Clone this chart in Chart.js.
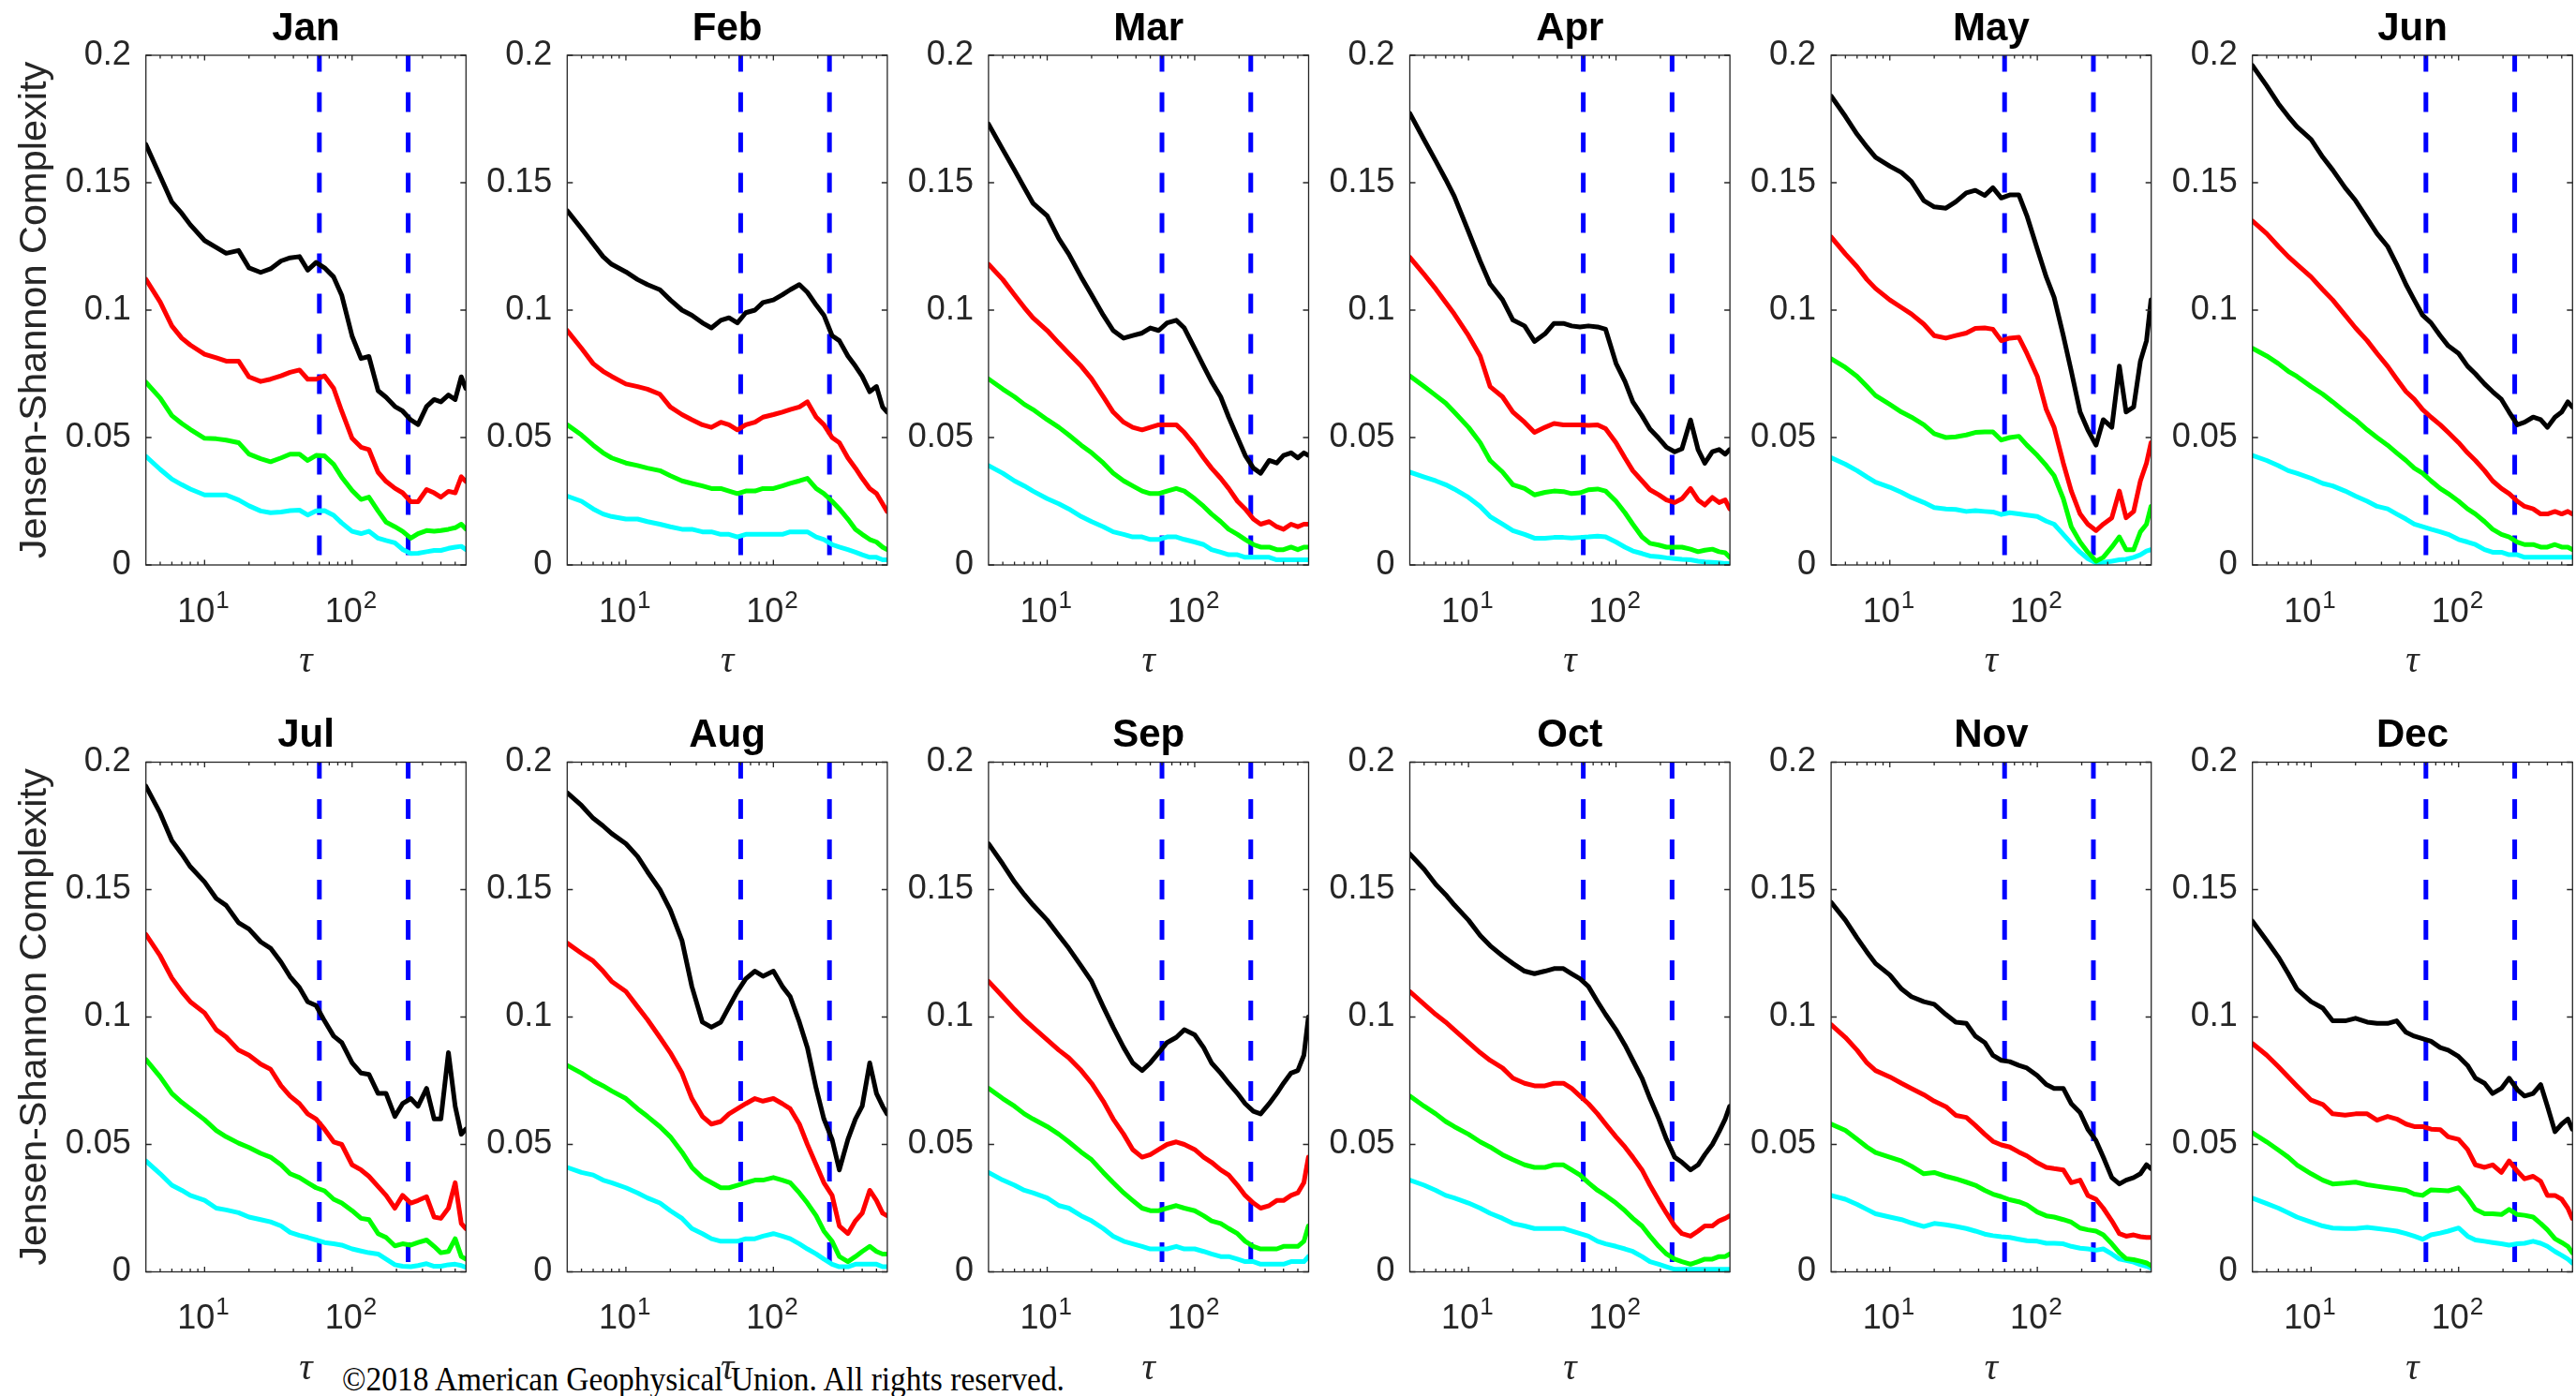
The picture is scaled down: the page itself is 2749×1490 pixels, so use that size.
<!DOCTYPE html>
<html><head><meta charset="utf-8">
<script src="https://cdn.jsdelivr.net/npm/chart.js@4.4.1/dist/chart.umd.min.js"></script>
<style>
html,body{margin:0;padding:0;background:#fff;}
body{width:2749px;height:1490px;position:relative;overflow:hidden;}
canvas{position:absolute;}
#copy{position:absolute;left:365px;top:1454px;font-family:'Liberation Serif','DejaVu Serif',serif;font-size:36px;line-height:36px;color:#000;white-space:nowrap;transform-origin:0 0;}
</style></head><body>
<div id="copy">©2018 American Geophysical Union. All rights reserved.</div>
<script>
// ---------------- data ----------------
const MONTHS = ['Jan','Feb','Mar','Apr','May','Jun','Jul','Aug','Sep','Oct','Nov','Dec'];
const TAU = [4,5,6,7,8,10,12,14,17,20,24,28,33,38,44,50,57,65,75,85,100,115,130,150,170,195,220,250,280,320,360,400,450,500,550,590];
const DASH_TAU = [60, 240];
const Y_TICKS = [0, 0.05, 0.1, 0.15, 0.2];
const Y_TICK_LABELS = ['0', '0.05', '0.1', '0.15', '0.2'];
const X_TICKS = [5,6,7,8,9,10,20,30,40,50,60,70,80,90,100,200,300,400,500];
const X_MAJOR = [10, 100];
const X_TICK_BASE = ['10', '10'];
const X_TICK_EXP = ['1', '2'];

const JAN_K = [0.165,0.1526,0.1424,0.138,0.1335,0.1273,0.1246,0.1223,0.1234,0.1166,0.1148,0.1162,0.1193,0.1205,0.121,0.1157,0.1187,0.1166,0.113,0.1059,0.0898,0.081,0.0818,0.0684,0.0658,0.0622,0.0604,0.0569,0.0551,0.0622,0.0649,0.064,0.0667,0.0649,0.0738,0.0693];
const JAN_R = [0.1121,0.1032,0.0938,0.089,0.0863,0.0827,0.0813,0.08,0.08,0.0738,0.072,0.0729,0.0742,0.0756,0.0765,0.0729,0.0729,0.0742,0.0693,0.0604,0.0497,0.0462,0.0453,0.0364,0.0328,0.0301,0.0283,0.0248,0.0248,0.0296,0.0283,0.0266,0.0289,0.0283,0.0346,0.0328];
const JAN_G = [0.0717,0.0655,0.0586,0.0555,0.0532,0.0497,0.0495,0.049,0.048,0.0435,0.0417,0.0405,0.042,0.0435,0.0435,0.041,0.043,0.0428,0.0395,0.0345,0.0292,0.0257,0.0266,0.0212,0.0168,0.015,0.0132,0.0105,0.0123,0.0135,0.0132,0.0135,0.014,0.0146,0.016,0.0141];
const JAN_C = [0.0426,0.0375,0.0337,0.0315,0.0298,0.0275,0.0275,0.0275,0.0255,0.0232,0.0212,0.0205,0.0208,0.0213,0.0215,0.0196,0.0212,0.0213,0.0195,0.0165,0.0132,0.0123,0.0132,0.0105,0.0096,0.0087,0.0061,0.0045,0.0046,0.0052,0.0057,0.0057,0.0065,0.007,0.0073,0.0061];

const FEB_K = [0.139,0.132,0.126,0.121,0.118,0.115,0.112,0.110,0.108,0.104,0.100,0.098,0.095,0.093,0.096,0.097,0.095,0.099,0.100,0.103,0.104,0.106,0.108,0.110,0.107,0.102,0.098,0.090,0.088,0.082,0.078,0.074,0.068,0.070,0.062,0.060];
const FEB_R = [0.092,0.085,0.079,0.076,0.074,0.071,0.070,0.069,0.067,0.062,0.059,0.057,0.055,0.054,0.056,0.055,0.053,0.055,0.056,0.058,0.059,0.060,0.061,0.062,0.064,0.058,0.055,0.050,0.048,0.042,0.038,0.034,0.030,0.028,0.024,0.021];
const FEB_G = [0.055,0.051,0.047,0.044,0.042,0.040,0.039,0.038,0.037,0.035,0.033,0.032,0.031,0.030,0.030,0.029,0.028,0.029,0.029,0.030,0.030,0.031,0.032,0.033,0.034,0.030,0.028,0.025,0.022,0.018,0.014,0.012,0.010,0.009,0.007,0.006];
const FEB_C = [0.027,0.025,0.022,0.020,0.019,0.018,0.018,0.017,0.016,0.015,0.014,0.014,0.013,0.013,0.012,0.012,0.011,0.012,0.012,0.012,0.012,0.012,0.013,0.013,0.013,0.011,0.010,0.008,0.007,0.006,0.005,0.004,0.003,0.003,0.002,0.002];

const MAR_K = [0.173,0.163,0.155,0.148,0.142,0.137,0.128,0.122,0.113,0.106,0.098,0.092,0.089,0.090,0.091,0.093,0.092,0.095,0.096,0.093,0.085,0.078,0.072,0.066,0.058,0.050,0.043,0.038,0.036,0.041,0.040,0.043,0.044,0.042,0.044,0.043];
const MAR_R = [0.118,0.112,0.106,0.101,0.097,0.092,0.087,0.083,0.078,0.073,0.066,0.060,0.056,0.054,0.053,0.054,0.055,0.055,0.055,0.052,0.047,0.042,0.038,0.034,0.030,0.025,0.022,0.018,0.016,0.017,0.015,0.014,0.016,0.015,0.016,0.016];
const MAR_G = [0.073,0.069,0.066,0.063,0.061,0.057,0.054,0.051,0.047,0.044,0.040,0.036,0.033,0.031,0.029,0.028,0.028,0.029,0.030,0.029,0.026,0.023,0.020,0.017,0.014,0.012,0.010,0.008,0.007,0.007,0.006,0.006,0.007,0.006,0.007,0.007];
const MAR_C = [0.039,0.036,0.033,0.031,0.029,0.026,0.024,0.022,0.019,0.017,0.015,0.013,0.012,0.011,0.011,0.010,0.010,0.011,0.011,0.010,0.009,0.008,0.006,0.005,0.004,0.004,0.003,0.003,0.003,0.003,0.002,0.002,0.002,0.002,0.002,0.002];

const APR_K = [0.1772,0.1668,0.1585,0.1513,0.1447,0.1308,0.1192,0.1103,0.1041,0.0961,0.0938,0.0877,0.0907,0.0948,0.0948,0.0938,0.0934,0.0938,0.0934,0.0925,0.0791,0.072,0.064,0.0586,0.0533,0.0497,0.0462,0.0444,0.0456,0.0569,0.0453,0.0399,0.0444,0.0453,0.0435,0.0453];
const APR_R = [0.1207,0.114,0.1083,0.103,0.0985,0.09,0.082,0.07,0.066,0.06,0.056,0.052,0.054,0.0555,0.055,0.055,0.055,0.0548,0.055,0.0535,0.048,0.042,0.037,0.033,0.0295,0.0275,0.0255,0.0245,0.026,0.03,0.0255,0.0235,0.0265,0.0245,0.0255,0.022];
const APR_G = [0.0742,0.07,0.0665,0.0635,0.06,0.054,0.048,0.041,0.0365,0.0315,0.03,0.0275,0.0285,0.029,0.0288,0.028,0.0283,0.0295,0.0298,0.029,0.025,0.0205,0.016,0.011,0.0085,0.0078,0.007,0.007,0.007,0.0062,0.0052,0.0058,0.0062,0.0052,0.0048,0.003];
const APR_C = [0.0364,0.0345,0.033,0.0315,0.0298,0.0265,0.023,0.019,0.016,0.0135,0.012,0.0105,0.0105,0.0108,0.0108,0.0106,0.0108,0.011,0.0113,0.011,0.009,0.007,0.0055,0.0045,0.0035,0.0032,0.0028,0.0025,0.0022,0.002,0.0015,0.0012,0.001,0.0008,0.0006,0.0005];

const MAY_K = [0.184,0.176,0.169,0.164,0.16,0.1565,0.154,0.1505,0.143,0.1405,0.14,0.1425,0.146,0.147,0.145,0.148,0.144,0.1452,0.1452,0.137,0.124,0.113,0.105,0.09,0.076,0.06,0.053,0.047,0.057,0.054,0.078,0.06,0.062,0.08,0.088,0.104];
const MAY_R = [0.1287,0.122,0.117,0.112,0.1085,0.104,0.101,0.0985,0.0945,0.09,0.089,0.09,0.091,0.0928,0.093,0.0925,0.088,0.089,0.0893,0.083,0.074,0.061,0.054,0.04,0.029,0.02,0.016,0.0135,0.016,0.0185,0.029,0.0185,0.021,0.033,0.04,0.048];
const MAY_G = [0.0809,0.0775,0.074,0.07,0.0665,0.063,0.06,0.058,0.055,0.0515,0.05,0.0503,0.051,0.052,0.0522,0.0522,0.049,0.05,0.0505,0.047,0.043,0.039,0.035,0.026,0.015,0.009,0.005,0.0015,0.003,0.007,0.011,0.006,0.006,0.013,0.016,0.023];
const MAY_C = [0.0421,0.0395,0.037,0.0345,0.0325,0.0305,0.0285,0.0265,0.0245,0.0225,0.022,0.0218,0.021,0.0213,0.021,0.0208,0.0198,0.0205,0.02,0.0196,0.019,0.0172,0.016,0.012,0.0085,0.005,0.0025,0.0008,0.001,0.0015,0.002,0.0022,0.003,0.004,0.0055,0.006];

const JUN_K = [0.196,0.188,0.181,0.176,0.172,0.167,0.16,0.155,0.148,0.143,0.136,0.13,0.125,0.118,0.11,0.104,0.098,0.095,0.09,0.086,0.083,0.078,0.075,0.071,0.068,0.065,0.06,0.055,0.056,0.058,0.057,0.054,0.058,0.06,0.064,0.062];
const JUN_R = [0.135,0.13,0.125,0.121,0.118,0.113,0.108,0.104,0.098,0.093,0.088,0.083,0.078,0.073,0.068,0.065,0.061,0.058,0.055,0.052,0.048,0.044,0.041,0.037,0.033,0.03,0.028,0.025,0.023,0.022,0.02,0.02,0.021,0.02,0.021,0.02];
const JUN_G = [0.085,0.082,0.079,0.076,0.074,0.07,0.067,0.064,0.06,0.057,0.053,0.05,0.047,0.044,0.041,0.038,0.036,0.033,0.03,0.028,0.025,0.022,0.02,0.017,0.014,0.012,0.011,0.009,0.008,0.008,0.007,0.007,0.008,0.007,0.007,0.006];
const JUN_C = [0.043,0.041,0.039,0.037,0.036,0.034,0.032,0.031,0.029,0.027,0.025,0.023,0.022,0.02,0.018,0.016,0.015,0.014,0.013,0.012,0.01,0.009,0.008,0.006,0.005,0.005,0.004,0.004,0.003,0.003,0.003,0.003,0.003,0.003,0.003,0.003];

const JUL_K = [0.1906,0.18,0.1692,0.164,0.159,0.153,0.1465,0.1438,0.137,0.1345,0.1295,0.127,0.1215,0.1158,0.1115,0.106,0.1045,0.0985,0.0925,0.09,0.082,0.078,0.0775,0.07,0.07,0.061,0.066,0.068,0.065,0.072,0.06,0.06,0.086,0.065,0.054,0.056];
const JUL_R = [0.1324,0.124,0.1153,0.11,0.106,0.1016,0.095,0.0922,0.087,0.085,0.0815,0.0795,0.073,0.069,0.066,0.062,0.06,0.056,0.051,0.05,0.042,0.04,0.0375,0.0335,0.03,0.025,0.03,0.027,0.028,0.0295,0.0215,0.021,0.025,0.035,0.019,0.017];
const JUL_G = [0.0833,0.0765,0.07,0.0665,0.064,0.0597,0.0555,0.053,0.0505,0.0488,0.0465,0.045,0.042,0.0385,0.037,0.035,0.033,0.0318,0.0285,0.027,0.024,0.021,0.0205,0.015,0.0135,0.0102,0.011,0.0105,0.0115,0.0125,0.01,0.0075,0.008,0.013,0.006,0.005];
const JUL_C = [0.0435,0.0385,0.034,0.032,0.03,0.0281,0.025,0.0243,0.0232,0.0215,0.0205,0.0196,0.018,0.0155,0.0143,0.0135,0.0125,0.0115,0.011,0.0105,0.009,0.0082,0.0075,0.007,0.005,0.0028,0.0022,0.002,0.0025,0.0032,0.0022,0.0022,0.0028,0.003,0.0025,0.0018];

const AUG_K = [0.188,0.183,0.178,0.175,0.172,0.168,0.163,0.157,0.15,0.142,0.13,0.112,0.098,0.096,0.098,0.104,0.11,0.115,0.118,0.116,0.118,0.112,0.108,0.098,0.088,0.072,0.06,0.052,0.04,0.052,0.06,0.065,0.082,0.07,0.065,0.062];
const AUG_R = [0.129,0.125,0.122,0.118,0.114,0.11,0.104,0.099,0.092,0.086,0.078,0.068,0.061,0.058,0.059,0.062,0.064,0.066,0.068,0.067,0.068,0.066,0.064,0.058,0.05,0.042,0.035,0.03,0.018,0.015,0.02,0.023,0.032,0.028,0.023,0.022];
const AUG_G = [0.081,0.078,0.075,0.073,0.071,0.068,0.064,0.061,0.057,0.053,0.047,0.041,0.037,0.035,0.033,0.033,0.034,0.035,0.036,0.036,0.037,0.036,0.035,0.031,0.027,0.022,0.016,0.012,0.006,0.004,0.006,0.008,0.01,0.008,0.007,0.007];
const AUG_C = [0.041,0.039,0.038,0.036,0.035,0.033,0.031,0.029,0.027,0.024,0.021,0.017,0.015,0.013,0.012,0.012,0.012,0.013,0.013,0.014,0.015,0.014,0.013,0.011,0.009,0.007,0.005,0.003,0.002,0.002,0.003,0.003,0.003,0.003,0.002,0.002];

const SEP_K = [0.168,0.16,0.153,0.148,0.144,0.138,0.132,0.127,0.12,0.114,0.104,0.096,0.088,0.082,0.079,0.082,0.086,0.09,0.092,0.095,0.093,0.088,0.082,0.078,0.074,0.07,0.066,0.063,0.062,0.066,0.07,0.074,0.078,0.079,0.085,0.1];
const SEP_R = [0.114,0.108,0.103,0.099,0.096,0.091,0.087,0.084,0.079,0.074,0.067,0.06,0.054,0.048,0.045,0.046,0.048,0.05,0.051,0.05,0.048,0.045,0.043,0.04,0.038,0.034,0.03,0.027,0.025,0.026,0.028,0.028,0.03,0.031,0.035,0.045];
const SEP_G = [0.072,0.068,0.065,0.062,0.06,0.057,0.054,0.051,0.047,0.044,0.039,0.035,0.031,0.028,0.025,0.024,0.024,0.025,0.026,0.025,0.024,0.022,0.02,0.019,0.017,0.015,0.012,0.01,0.009,0.009,0.009,0.01,0.01,0.01,0.012,0.018];
const SEP_C = [0.039,0.036,0.034,0.032,0.031,0.029,0.026,0.025,0.022,0.02,0.017,0.014,0.012,0.011,0.01,0.009,0.009,0.009,0.01,0.009,0.009,0.008,0.007,0.006,0.006,0.005,0.004,0.004,0.003,0.003,0.003,0.003,0.004,0.004,0.004,0.006];

const OCT_K = [0.164,0.158,0.152,0.148,0.144,0.138,0.132,0.128,0.124,0.121,0.118,0.117,0.118,0.119,0.119,0.117,0.115,0.112,0.106,0.101,0.095,0.089,0.083,0.076,0.068,0.06,0.052,0.045,0.043,0.04,0.042,0.046,0.05,0.055,0.06,0.065];
const OCT_R = [0.11,0.105,0.101,0.098,0.095,0.09,0.086,0.083,0.08,0.076,0.074,0.073,0.073,0.074,0.074,0.072,0.069,0.066,0.062,0.058,0.053,0.049,0.045,0.04,0.034,0.028,0.023,0.018,0.015,0.014,0.016,0.018,0.018,0.02,0.021,0.022];
const OCT_G = [0.069,0.065,0.062,0.059,0.057,0.054,0.051,0.049,0.046,0.044,0.042,0.041,0.041,0.042,0.042,0.04,0.038,0.035,0.032,0.03,0.027,0.024,0.021,0.018,0.014,0.01,0.007,0.005,0.004,0.003,0.004,0.005,0.005,0.006,0.006,0.007];
const OCT_C = [0.036,0.034,0.032,0.03,0.029,0.027,0.025,0.023,0.021,0.019,0.018,0.017,0.017,0.017,0.017,0.016,0.015,0.014,0.012,0.011,0.01,0.009,0.008,0.006,0.004,0.003,0.002,0.001,0.001,0.001,0.001,0.001,0.001,0.001,0.001,0.001];

const NOV_K = [0.145,0.138,0.131,0.1255,0.121,0.1165,0.111,0.108,0.106,0.105,0.101,0.098,0.0975,0.0925,0.09,0.085,0.083,0.0825,0.081,0.08,0.077,0.0735,0.072,0.072,0.066,0.0625,0.056,0.0515,0.045,0.037,0.0345,0.036,0.037,0.0385,0.042,0.0405];
const NOV_R = [0.097,0.092,0.087,0.082,0.079,0.0765,0.074,0.072,0.0695,0.067,0.0648,0.0614,0.0606,0.0575,0.054,0.0512,0.0498,0.049,0.047,0.0455,0.0428,0.041,0.0405,0.04,0.035,0.036,0.03,0.0285,0.025,0.02,0.015,0.014,0.0145,0.0138,0.0135,0.0135];
const NOV_G = [0.058,0.0555,0.052,0.049,0.0468,0.045,0.0435,0.0415,0.0385,0.039,0.0375,0.0365,0.0352,0.034,0.032,0.0305,0.0295,0.0283,0.0275,0.0263,0.0235,0.022,0.0215,0.0205,0.0195,0.0172,0.0165,0.016,0.0145,0.011,0.0075,0.0052,0.0048,0.0042,0.0035,0.0024];
const NOV_C = [0.03,0.0285,0.0265,0.0245,0.0228,0.0215,0.0205,0.0192,0.0178,0.019,0.0185,0.0178,0.017,0.016,0.0148,0.0142,0.0138,0.0135,0.0128,0.0122,0.012,0.0112,0.0112,0.011,0.01,0.0093,0.009,0.0085,0.009,0.007,0.005,0.0045,0.0038,0.0028,0.0022,0.0015];

const DEC_K = [0.1376,0.13,0.1235,0.117,0.111,0.106,0.1035,0.0985,0.0985,0.0995,0.098,0.0975,0.0975,0.0985,0.094,0.0925,0.0915,0.0905,0.088,0.087,0.0845,0.081,0.076,0.074,0.07,0.072,0.076,0.0715,0.069,0.07,0.0735,0.065,0.055,0.058,0.06,0.056];
const DEC_R = [0.0896,0.085,0.0805,0.0765,0.073,0.0674,0.0657,0.062,0.0615,0.062,0.062,0.0595,0.061,0.06,0.058,0.057,0.057,0.056,0.0558,0.053,0.052,0.048,0.042,0.041,0.042,0.039,0.0435,0.0395,0.0365,0.0375,0.0355,0.03,0.03,0.0285,0.025,0.021];
const DEC_G = [0.0546,0.051,0.0478,0.045,0.042,0.0385,0.036,0.0345,0.0348,0.0352,0.0342,0.0336,0.033,0.0325,0.032,0.0305,0.03,0.0322,0.032,0.0318,0.033,0.029,0.0245,0.0228,0.0228,0.0225,0.0245,0.0225,0.0222,0.0215,0.019,0.0165,0.013,0.0115,0.01,0.0075];
const DEC_C = [0.0289,0.0268,0.025,0.0232,0.0215,0.0195,0.018,0.0172,0.017,0.017,0.0175,0.017,0.0165,0.016,0.015,0.014,0.0128,0.0145,0.0152,0.016,0.0172,0.014,0.0125,0.012,0.0115,0.011,0.0105,0.011,0.0112,0.012,0.0112,0.01,0.008,0.0065,0.005,0.0035];

const SERIES_COLORS = ['#000000', '#ff0000', '#00ff00', '#00ffff'];
const MONTH_SERIES = [
  [JAN_K, JAN_R, JAN_G, JAN_C], [FEB_K, FEB_R, FEB_G, FEB_C], [MAR_K, MAR_R, MAR_G, MAR_C],
  [APR_K, APR_R, APR_G, APR_C], [MAY_K, MAY_R, MAY_G, MAY_C], [JUN_K, JUN_R, JUN_G, JUN_C],
  [JUL_K, JUL_R, JUL_G, JUL_C], [AUG_K, AUG_R, AUG_G, AUG_C], [SEP_K, SEP_R, SEP_G, SEP_C],
  [OCT_K, OCT_R, OCT_G, OCT_C], [NOV_K, NOV_R, NOV_G, NOV_C], [DEC_K, DEC_R, DEC_G, DEC_C]
];

// ---------------- layout ----------------
const FONT = "'Liberation Sans', Arial, Helvetica, sans-serif";
const PLOT_W = 341.6, PLOT_H = 544;
const COL_X0 = 155.7, COL_PITCH = 449.6;
const ROW_Y = [59, 813.5];
const TITLE_BLOCK = 53;
const XAXIS_H = 127;
const XT_SIZE = 36, XT_EXP_SIZE = 26, XT_PAD = 29, XT_SHIFT = -9;

const boxPlugin = {
  id: 'matlabBox',
  afterDraw(chart) {
    const {ctx, chartArea: a, scales: {x, y}} = chart;
    ctx.save();
    ctx.strokeStyle = '#262626';
    ctx.lineWidth = 1.3;
    ctx.strokeRect(a.left, a.top, a.right - a.left, a.bottom - a.top);
    ctx.beginPath();
    x.ticks.forEach(t => {
      const px = x.getPixelForValue(t.value);
      const L = X_MAJOR.includes(t.value) ? 5.5 : 3.5;
      ctx.moveTo(px, a.bottom); ctx.lineTo(px, a.bottom - L);
      ctx.moveTo(px, a.top); ctx.lineTo(px, a.top + L);
    });
    y.ticks.forEach(t => {
      const py = y.getPixelForValue(t.value);
      ctx.moveTo(a.left, py); ctx.lineTo(a.left + 6, py);
      ctx.moveTo(a.right, py); ctx.lineTo(a.right - 6, py);
    });
    ctx.stroke();
    // exponents of the decade tick labels (superscripts)
    ctx.fillStyle = '#262626';
    ctx.textBaseline = 'middle';
    ctx.textAlign = 'left';
    const midY = a.bottom + XT_PAD + XT_SIZE * 1.2 / 2;
    X_MAJOR.forEach((v, q) => {
      ctx.font = XT_SIZE + 'px ' + FONT;
      const wb = ctx.measureText(X_TICK_BASE[q]).width;
      const px = x.getPixelForValue(v) + XT_SHIFT;
      ctx.font = XT_EXP_SIZE + 'px ' + FONT;
      ctx.fillText(X_TICK_EXP[q], px + wb / 2 + 1, midY - 12);
    });
    ctx.restore();
  }
};

MONTHS.forEach((m, i) => {
  const r = Math.floor(i / 6), c = i % 6;
  const plotL = COL_X0 + COL_PITCH * c, plotT = ROW_Y[r];
  const leftW = c === 0 ? 142 : 95;
  const cl = Math.floor(plotL - leftW);
  const yW = plotL - cl;
  const ct = Math.floor(plotT - TITLE_BLOCK);
  const padTop = plotT - TITLE_BLOCK - ct;
  const cw = Math.ceil(yW + PLOT_W + 6);
  const padR = cw - yW - PLOT_W;
  const ch = Math.ceil(plotT - ct + PLOT_H + XAXIS_H);
  const xH = ch - (plotT - ct) - PLOT_H;

  const cv = document.createElement('canvas');
  cv.width = cw; cv.height = ch;
  cv.style.left = cl + 'px'; cv.style.top = ct + 'px';
  cv.style.width = cw + 'px'; cv.style.height = ch + 'px';
  document.body.appendChild(cv);

  const datasets = MONTH_SERIES[i].map((vals, k) => ({
    data: TAU.map((t, j) => ({x: t, y: vals[j]})),
    borderColor: SERIES_COLORS[k], borderWidth: 5,
    pointRadius: 0, tension: 0, fill: false,
    borderJoinStyle: 'round', borderCapStyle: 'round'
  }));
  DASH_TAU.forEach(t => datasets.push({
    data: [{x: t, y: 0.2}, {x: t, y: 0}],
    borderColor: '#0000ff', borderWidth: 5, borderDash: [21, 22], borderDashOffset: 3.5,
    pointRadius: 0, tension: 0, fill: false
  }));

  new Chart(cv, {
    type: 'line',
    data: {datasets},
    options: {
      responsive: false, animation: false, devicePixelRatio: 1,
      layout: {padding: {top: padTop, right: padR, left: 0, bottom: 0}},
      plugins: {
        legend: {display: false}, tooltip: {enabled: false},
        title: {display: true, fullSize: false, text: m, color: '#000',
          font: {family: FONT, size: 42, weight: 'bold', lineHeight: 1.2},
          padding: {top: 0, bottom: 2.6}}
      },
      scales: {
        x: {
          type: 'logarithmic', min: 4, max: 592,
          grid: {display: false, drawTicks: false}, border: {display: false},
          afterBuildTicks: s => { s.ticks = X_TICKS.map(v => ({value: v})); },
          afterFit: s => { s.height = xH; s.paddingLeft = 0; s.paddingRight = 0; },
          ticks: {autoSkip: false, maxRotation: 0, minRotation: 0, padding: XT_PAD, labelOffset: XT_SHIFT,
            color: '#262626', font: {family: FONT, size: XT_SIZE, lineHeight: 1.2},
            callback: v => { const q = X_MAJOR.indexOf(v); return q >= 0 ? X_TICK_BASE[q] : ''; }},
          title: {display: true, text: 'τ', color: '#262626',
            font: {family: "'Liberation Serif', 'DejaVu Serif', serif", size: 40, style: 'italic', lineHeight: 1.2},
            padding: {top: 0, bottom: 0}}
        },
        y: {
          min: 0, max: 0.2,
          grid: {display: false, drawTicks: false}, border: {display: false},
          afterBuildTicks: s => { s.ticks = Y_TICKS.map(v => ({value: v})); },
          afterFit: s => { s.width = yW; s.paddingTop = 0; s.paddingBottom = 0; },
          ticks: {padding: 16, color: '#262626', font: {family: FONT, size: 36},
            callback: v => { const q = Y_TICKS.indexOf(v); return q >= 0 ? Y_TICK_LABELS[q] : ''; }},
          title: {display: c === 0, text: 'Jensen-Shannon Complexity', color: '#262626',
            font: {family: FONT, size: 41.5, lineHeight: 1.2}, padding: {top: 0, bottom: 0}}
        }
      }
    },
    plugins: [boxPlugin]
  });
});

const copy = document.getElementById('copy');
const w = copy.getBoundingClientRect().width;
copy.style.transform = 'scaleX(' + (771 / w) + ')';
</script>
</body></html>
